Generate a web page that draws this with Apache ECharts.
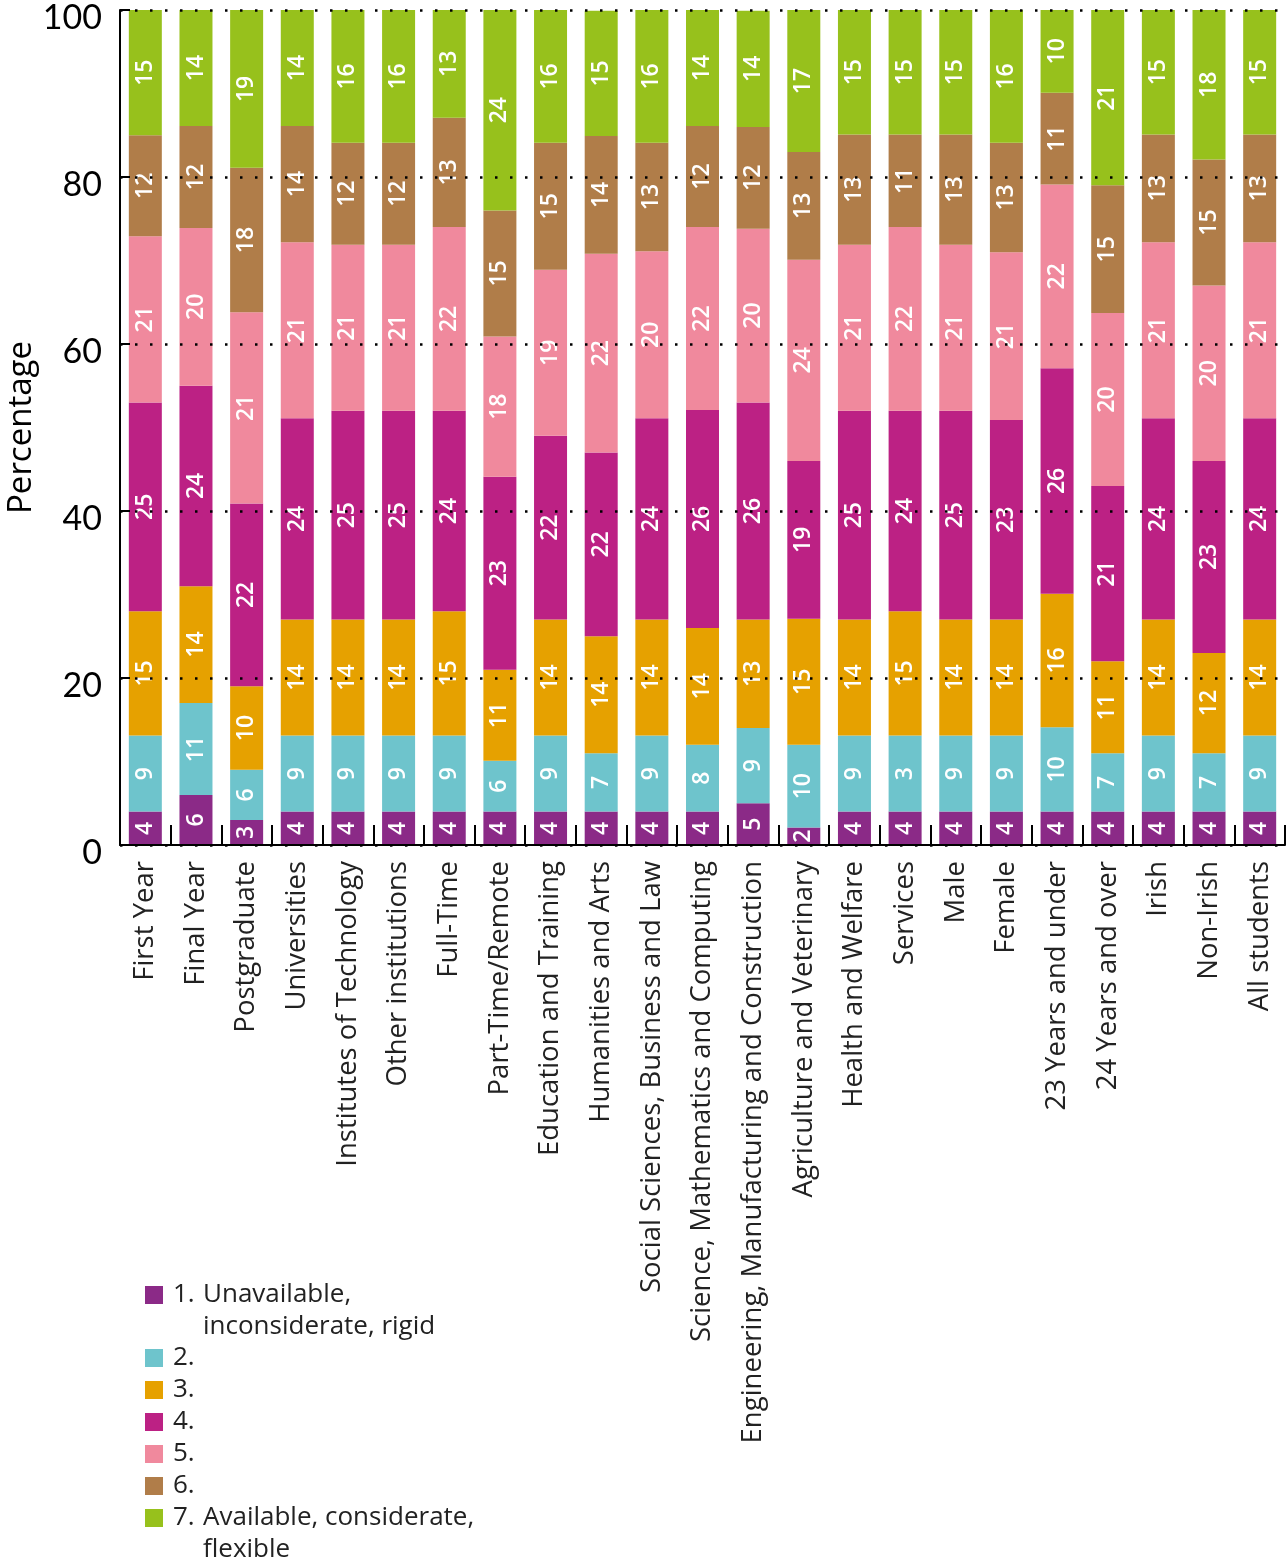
<!DOCTYPE html>
<html><head><meta charset="utf-8">
<script src="https://cdn.jsdelivr.net/npm/echarts@6/dist/echarts.min.js"></script>
<style>html,body{margin:0;padding:0;background:#fff}#c{width:1288px;height:1564px}</style>
</head><body><div id="c"></div><script>
const categories = ['First Year','Final Year','Postgraduate','Universities','Institutes of Technology','Other institutions','Full-Time','Part-Time/Remote','Education and Training','Humanities and Arts','Social Sciences, Business and Law','Science, Mathematics and Computing','Engineering, Manufacturing and Construction','Agriculture and Veterinary','Health and Welfare','Services','Male','Female','23 Years and under','24 Years and over','Irish','Non-Irish','All students'];
const seriesNames = ['1. Unavailable, inconsiderate, rigid','2.','3.','4.','5.','6.','7. Available, considerate, flexible'];
const colors = ['#8B2A87','#6EC4CC','#E6A100','#BC2184','#F0899D','#B07D49','#97C11C'];
const yTicks = [0,20,40,60,80,100];

// segment sizes
const values1 = [4.0,6.0,3.0,4.0,4.0,4.0,4.0,4.0,4.0,4.0,4.0,4.0,5.0,2.1,4.0,4.0,4.0,4.0,4.0,4.0,4.0,4.0,4.0];
const values2 = [9.1,11.0,6.0,9.1,9.1,9.1,9.1,6.1,9.1,7.0,9.1,8.0,9.0,9.9,9.1,9.1,9.1,9.1,10.1,7.0,9.1,7.0,9.1];
const values3 = [14.9,14.0,10.0,13.9,13.9,13.9,14.9,10.9,13.9,14.0,13.9,14.0,13.0,15.1,13.9,14.9,13.9,13.9,16.0,11.0,13.9,12.0,13.9];
const values4 = [25.0,24.0,21.9,24.1,25.0,25.0,24.0,23.1,22.0,22.0,24.1,26.1,26.0,18.9,25.0,24.0,25.0,23.9,27.0,21.0,24.1,23.0,24.1];
const values5 = [19.9,18.9,22.9,21.1,19.9,19.9,22.0,16.8,19.9,23.8,20.0,21.9,20.8,24.1,19.9,22.0,19.9,20.1,22.0,20.7,21.1,21.0,21.1];
const values6 = [12.1,12.2,17.3,13.9,12.2,12.2,13.1,15.1,15.2,14.1,13.0,12.1,12.2,12.9,13.2,11.1,13.2,13.1,11.0,15.3,12.9,15.1,12.9];
const values7 = [15.0,13.9,18.9,14.0,15.9,15.9,12.9,24.0,15.9,15.0,15.9,13.9,13.9,17.0,15.0,15.0,15.0,15.9,9.9,21.0,15.0,17.9,15.0];

// printed labels
const labels1 = [4,6,3,4,4,4,4,4,4,4,4,4,5,2,4,4,4,4,4,4,4,4,4];
const labels2 = [9,11,6,9,9,9,9,6,9,7,9,8,9,10,9,3,9,9,10,7,9,7,9];
const labels3 = [15,14,10,14,14,14,15,11,14,14,14,14,13,15,14,15,14,14,16,11,14,12,14];
const labels4 = [25,24,22,24,25,25,24,23,22,22,24,26,26,19,25,24,25,23,26,21,24,23,24];
const labels5 = [21,20,21,21,21,21,22,18,19,22,20,22,20,24,21,22,21,21,22,20,21,20,21];
const labels6 = [12,12,18,14,12,12,13,15,15,14,13,12,12,13,13,11,13,13,11,15,13,15,13];
const labels7 = [15,14,19,14,16,16,13,24,16,15,16,14,14,17,15,15,15,16,10,21,15,18,15];

const valueArrays = [values1,values2,values3,values4,values5,values6,values7];
const labelArrays = [labels1,labels2,labels3,labels4,labels5,labels6,labels7];
const FONT = 'Open Sans';
const NUMFONT = 'Lato';

const series = valueArrays.map((vals,i)=>({
  name: seriesNames[i], type:'bar', stack:'total', barWidth:33,
  itemStyle:{color:colors[i]},
  label:{show:true, position:'inside', rotate:90, color:'#fff', fontFamily:FONT, fontSize:23, fontWeight:600,
    formatter:p=>String(labelArrays[i][p.dataIndex])},
  emphasis:{disabled:true},
  data: vals
}));

const LFS = 26;
const richBase = {
  n:{width:30, fontFamily:FONT, fontSize:LFS, lineHeight:32, color:'#222'},
  t:{fontFamily:FONT, fontSize:LFS, lineHeight:32, color:'#222'}
};
function twoLine(name){
  const num = name.slice(0,2);
  const rest = name.slice(3);
  const a = num === '1.' ? 'Unavailable,' : 'Available, considerate,';
  const b = rest.slice(a.length+1);
  return '{n|'+num+'}{t|'+a+'}\n{n| }{t|'+b+'}';
}
const legendCommon = {orient:'vertical', left:145, padding:0, itemWidth:18, itemHeight:18, itemGap:0, icon:'rect', selectedMode:false};

const option = {
  animation:false,
  backgroundColor:'#fff',
  grid:{left:120, right:3, top:10, bottom:719, containLabel:false, outerBoundsMode:'none'},
  legend:[
    Object.assign({}, legendCommon, {top:1247, data:[seriesNames[0]], formatter:twoLine,
      textStyle:{fontFamily:FONT, fontSize:LFS, lineHeight:32, color:'#222', padding:[32,0,0,5], rich:richBase}}),
    Object.assign({}, legendCommon, {top:1342, data:seriesNames.slice(1,6),
      textStyle:{fontFamily:FONT, fontSize:LFS, lineHeight:32, color:'#222', padding:[0,0,0,5]}}),
    Object.assign({}, legendCommon, {top:1470, data:[seriesNames[6]], formatter:twoLine,
      textStyle:{fontFamily:FONT, fontSize:LFS, lineHeight:32, color:'#222', padding:[32,0,0,5], rich:richBase}})
  ],
  xAxis:{type:'category', data:categories, z:10,
    axisLine:{show:true, lineStyle:{color:'#000', width:2}},
    axisTick:{show:true, inside:true, length:20, lineStyle:{color:'#000', width:2}},
    axisLabel:{rotate:90, fontFamily:FONT, fontSize:27.5, color:'#222', margin:16, interval:0}
  },
  yAxis:{type:'value', min:0, max:100, interval:20, z:10,
    name:'Percentage', nameLocation:'middle', nameGap:82, nameRotate:90, nameMoveOverlap:false,
    nameTextStyle:{fontFamily:FONT, fontSize:33, color:'#000'},
    axisLine:{show:true, lineStyle:{color:'#000', width:2}},
    axisTick:{show:true, inside:true, length:10, lineStyle:{color:'#000', width:2}},
    axisLabel:{fontFamily:NUMFONT, fontSize:34, color:'#000', margin:18, verticalAlign:'top', lineHeight:16,
      formatter:v=>yTicks.indexOf(v)>=0?String(v):''},
    splitLine:{show:true, lineStyle:{color:'#000', width:2.5, type:[2.5,12.5]}}
  },
  series: series
};
const chart = echarts.init(document.getElementById('c'), null, {renderer:'canvas'});
chart.setOption(option);
</script></body></html>
